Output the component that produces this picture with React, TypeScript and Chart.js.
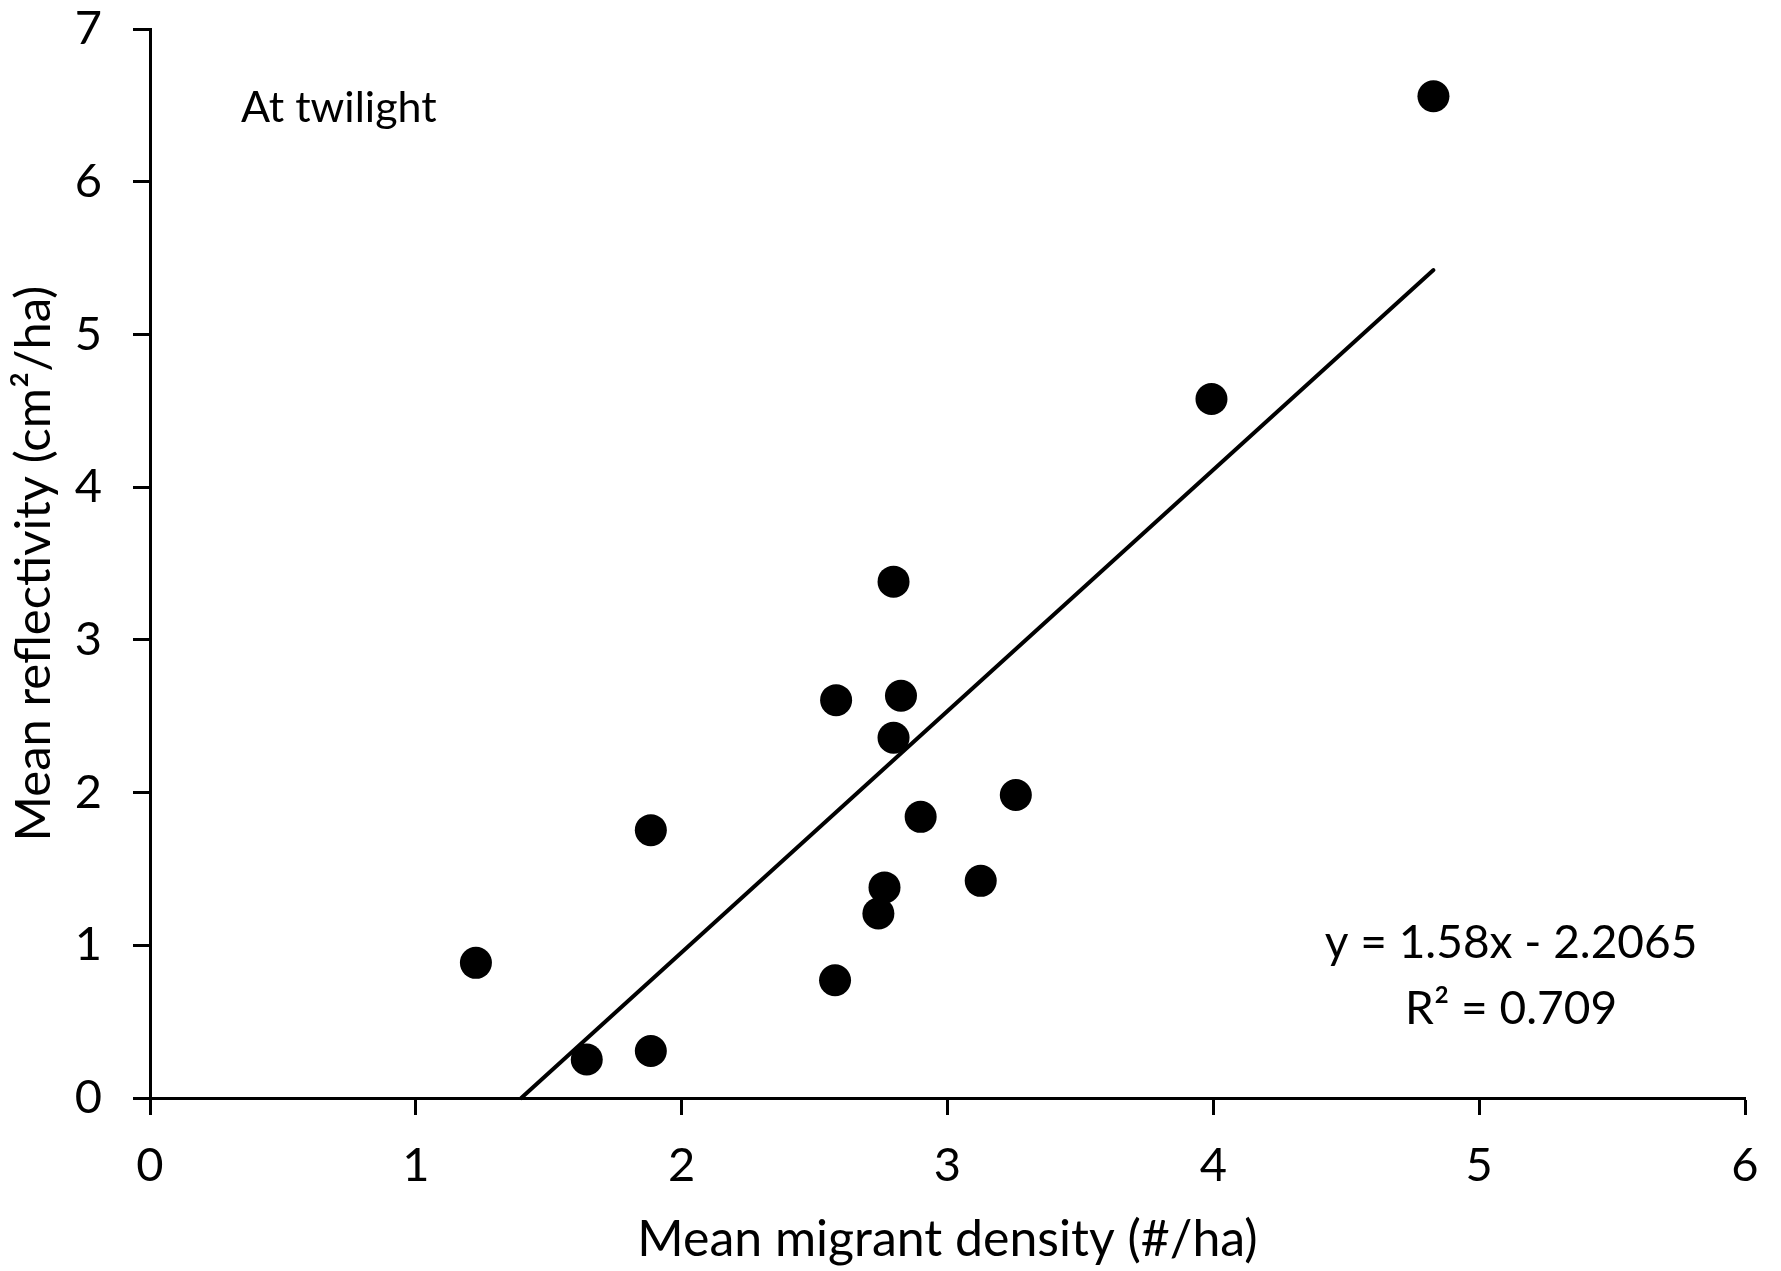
import React, { useEffect, useRef } from "react";
import { Chart, registerables } from "chart.js";

Chart.register(...registerables);

// Data
const densityX: number[] = [1.226, 1.643, 1.884, 1.884, 2.577, 2.581, 2.74, 2.763, 2.797, 2.797, 2.825, 2.899, 3.125, 3.257, 3.993, 4.828];
const reflectivityY: number[] = [0.885, 0.252, 0.308, 1.754, 0.771, 2.605, 1.208, 1.379, 2.359, 3.381, 2.634, 1.841, 1.422, 1.984, 4.577, 6.56];

const slope = 1.58;
const intercept = -2.2065;
const trendEndsX: number[] = [1.3965, 4.828];

const xTicks: number[] = [0, 1, 2, 3, 4, 5, 6];
const yTicks: number[] = [0, 1, 2, 3, 4, 5, 6, 7];

const xTitle = "Mean migrant density (#/ha)";
const yTitle = "Mean reflectivity (cm²/ha)";
const panelLabel = "At twilight";
const eqLines: string[] = ["y = 1.58x - 2.2065", "R² = 0.709"];

// annotation anchors in data units
const panelLabelPos = { x: 0.342, y: 6.394 };
const eqPos = { x: 5.12, y: [0.92, 0.4875] };

const FONT = "Lato, 'Open Sans', sans-serif";

const annotationPlugin = {
  id: "annotations",
  afterDatasetsDraw(chart: any) {
    const { ctx, scales } = chart;
    const xs = scales.x;
    const ys = scales.y;
    ctx.save();
    ctx.fillStyle = "#000";
    ctx.textBaseline = "alphabetic";
    ctx.font = `43px ${FONT}`;
    ctx.textAlign = "left";
    ctx.fillText(panelLabel, xs.getPixelForValue(panelLabelPos.x), ys.getPixelForValue(panelLabelPos.y));
    ctx.font = `46px ${FONT}`;
    ctx.textAlign = "center";
    eqLines.forEach((t, i) => {
      ctx.fillText(t, xs.getPixelForValue(eqPos.x), ys.getPixelForValue(eqPos.y[i]));
    });
    ctx.restore();
  },
};

export default function App() {
  const canvasRef = useRef<HTMLCanvasElement | null>(null);

  useEffect(() => {
    if (!canvasRef.current) return;
    const points = densityX.map((x, i) => ({ x, y: reflectivityY[i] }));
    const trend = trendEndsX.map((x) => ({ x, y: slope * x + intercept }));

    const chart = new Chart(canvasRef.current, {
      type: "scatter",
      data: {
        datasets: [
          {
            type: "line",
            label: "trend",
            data: trend,
            borderColor: "#000",
            borderWidth: 4,
            borderCapStyle: "round",
            pointRadius: 0,
            fill: false,
            showLine: true,
            clip: false,
            order: 2,
          } as any,
          {
            label: "points",
            data: points,
            backgroundColor: "#000",
            borderColor: "#000",
            borderWidth: 0,
            pointRadius: 16,
            pointHoverRadius: 16,
            clip: false,
            order: 1,
          } as any,
        ],
      },
      options: {
        animation: false,
        responsive: true,
        maintainAspectRatio: false,
        layout: { padding: { top: 29, right: 36, left: 0, bottom: 0 } },
        plugins: {
          legend: { display: false },
          tooltip: { enabled: false },
        },
        scales: {
          x: {
            type: "linear",
            min: 0,
            max: 6,
            afterBuildTicks: (scale: any) => {
              scale.ticks = xTicks.map((v) => ({ value: v }));
            },
            afterFit: (scale: any) => {
              scale.height = 173;
              scale.paddingLeft = 0;
              scale.paddingRight = 0;
            },
            ticks: {
              color: "#000",
              font: { family: FONT, size: 47 },
              padding: 23,
              maxRotation: 0,
              autoSkip: false,
            },
            grid: {
              display: true,
              drawOnChartArea: false,
              drawTicks: true,
              tickLength: 17,
              tickWidth: 3,
              color: "#000",
            },
            border: { display: true, color: "#000", width: 3 },
            title: {
              display: true,
              text: xTitle,
              color: "#000",
              font: { family: FONT, size: 50 },
              padding: { top: 0, bottom: 1 },
            },
          },
          y: {
            type: "linear",
            min: 0,
            max: 7,
            afterBuildTicks: (scale: any) => {
              scale.ticks = yTicks.map((v) => ({ value: v }));
            },
            afterFit: (scale: any) => {
              scale.width = 150;
              scale.paddingTop = 0;
              scale.paddingBottom = 0;
            },
            ticks: {
              color: "#000",
              font: { family: FONT, size: 47 },
              padding: 31,
              autoSkip: false,
            },
            grid: {
              display: true,
              drawOnChartArea: false,
              drawTicks: true,
              tickLength: 17,
              tickWidth: 3,
              color: "#000",
            },
            border: { display: true, color: "#000", width: 3 },
            title: {
              display: true,
              text: yTitle,
              color: "#000",
              font: { family: FONT, size: 49 },
              padding: { top: 5, bottom: 0 },
            },
          },
        },
      },
      plugins: [annotationPlugin],
    });
    return () => chart.destroy();
  }, []);

  return (
    <div style={{ position: "absolute", left: 0, top: 0, width: 1781, height: 1271, background: "#fff" }}>
      <canvas ref={canvasRef} />
    </div>
  );
}
